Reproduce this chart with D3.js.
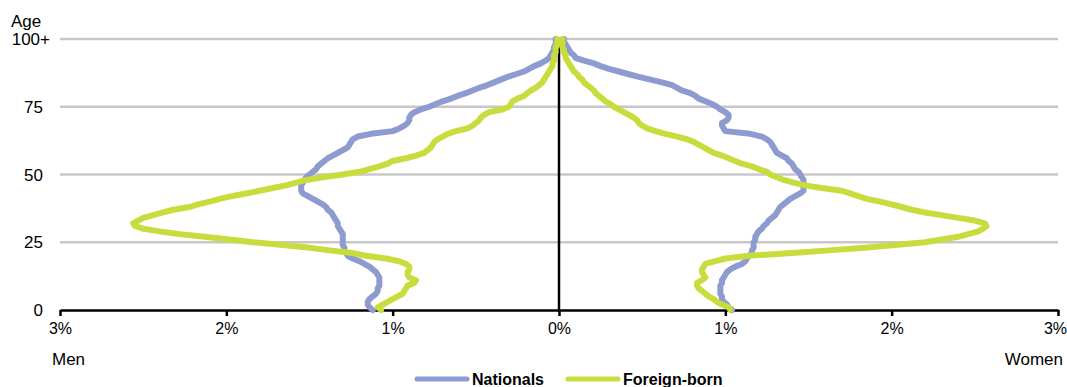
<!DOCTYPE html>
<html>
<head>
<meta charset="utf-8">
<script src="https://cdn.jsdelivr.net/npm/d3@7"></script>
<style>
  html, body { margin: 0; padding: 0; background: #fff; }
  svg { display: block; font-family: "Liberation Sans", Arial, sans-serif; }
</style>
</head>
<body>
<svg id="chart" width="1067" height="387"></svg>
<script>
// ---- Data ----
const ages = [0,1,2,3,4,5,6,7,8,9,10,11,12,13,14,15,16,17,18,19,20,21,22,23,24,25,26,27,28,29,30,31,32,33,34,35,36,37,38,39,40,41,42,43,44,45,46,47,48,49,50,51,52,53,54,55,56,57,58,59,60,61,62,63,64,65,66,67,68,69,70,71,72,73,74,75,76,77,78,79,80,81,82,83,84,85,86,87,88,89,90,91,92,93,94,95,96,97,98,99,100];

// share of population (%) by single year of age
const nationalsMen = [1.12,1.14,1.15,1.15,1.14,1.12,1.10,1.09,1.09,1.08,
 1.08,1.08,1.08,1.09,1.10,1.12,1.14,1.17,1.20,1.24,
 1.27,1.28,1.29,1.29,1.30,1.30,1.30,1.30,1.30,1.31,
 1.32,1.33,1.33,1.34,1.35,1.36,1.37,1.39,1.40,1.42,
 1.45,1.48,1.51,1.54,1.55,1.55,1.55,1.54,1.53,1.52,
 1.50,1.48,1.46,1.45,1.43,1.41,1.39,1.36,1.33,1.30,
 1.27,1.26,1.25,1.24,1.21,1.13,1.00,0.96,0.93,0.91,
 0.90,0.90,0.89,0.87,0.83,0.78,0.74,0.70,0.65,0.61,
 0.56,0.52,0.48,0.43,0.39,0.35,0.31,0.26,0.21,0.18,
 0.15,0.11,0.08,0.06,0.05,0.04,0.03,0.03,0.02,0.02,
 0.02];
const nationalsWomen = [1.04,1.02,1.01,0.99,0.98,0.98,0.97,0.97,0.97,0.97,
 0.98,0.98,0.99,1.00,1.01,1.03,1.06,1.10,1.12,1.13,
 1.14,1.16,1.16,1.17,1.17,1.17,1.18,1.18,1.19,1.20,
 1.22,1.23,1.25,1.26,1.28,1.30,1.31,1.32,1.33,1.35,
 1.37,1.39,1.42,1.45,1.47,1.47,1.47,1.47,1.47,1.46,
 1.45,1.44,1.42,1.41,1.40,1.38,1.37,1.34,1.31,1.30,
 1.29,1.28,1.27,1.25,1.22,1.15,1.00,0.99,0.98,0.98,
 1.01,1.02,1.02,1.00,0.97,0.95,0.92,0.88,0.84,0.82,
 0.79,0.74,0.71,0.68,0.62,0.55,0.48,0.42,0.36,0.30,
 0.25,0.21,0.15,0.10,0.09,0.07,0.06,0.05,0.04,0.03,
 0.03];
const foreignMen = [1.07,1.09,1.06,1.03,1.00,0.97,0.94,0.93,0.92,0.91,
 0.87,0.86,0.90,0.91,0.91,0.90,0.90,0.92,0.96,1.04,
 1.16,1.24,1.38,1.50,1.66,1.84,1.98,2.13,2.28,2.40,
 2.50,2.55,2.56,2.53,2.50,2.44,2.38,2.32,2.22,2.17,
 2.10,2.04,1.97,1.88,1.80,1.72,1.64,1.58,1.52,1.42,
 1.30,1.20,1.14,1.08,1.03,1.00,0.92,0.86,0.81,0.79,
 0.77,0.76,0.75,0.73,0.70,0.67,0.62,0.55,0.52,0.50,
 0.48,0.47,0.45,0.42,0.34,0.30,0.29,0.28,0.25,0.21,
 0.19,0.17,0.14,0.12,0.10,0.09,0.08,0.07,0.06,0.05,
 0.04,0.04,0.03,0.03,0.03,0.02,0.02,0.02,0.01,0.01,
 0.01];
const foreignWomen = [1.03,1.02,0.98,0.95,0.93,0.90,0.88,0.86,0.84,0.83,
 0.83,0.86,0.88,0.87,0.86,0.86,0.87,0.88,0.94,1.00,
 1.14,1.40,1.62,1.84,2.02,2.20,2.30,2.40,2.46,2.52,
 2.55,2.57,2.56,2.50,2.40,2.30,2.20,2.12,2.06,2.00,
 1.93,1.85,1.80,1.75,1.70,1.58,1.48,1.41,1.35,1.31,
 1.27,1.25,1.20,1.16,1.10,1.06,1.02,0.98,0.93,0.90,
 0.87,0.84,0.81,0.77,0.71,0.64,0.58,0.53,0.50,0.48,
 0.47,0.45,0.42,0.39,0.36,0.33,0.31,0.28,0.26,0.24,
 0.22,0.21,0.19,0.17,0.15,0.14,0.12,0.11,0.09,0.08,
 0.07,0.06,0.05,0.04,0.04,0.03,0.03,0.02,0.02,0.02,
 0.02];

const xTickValues = [-3,-2,-1,0,1,2,3];
const xTickLabels = ["3%","2%","1%","0%","1%","2%","3%"];
const yTickValues = [0,25,50,75,100];
const yTickLabels = ["0","25","50","75","100+"];
const seriesNames = ["Nationals","Foreign-born"];
const seriesColors = ["#8e9bd0","#c9dc3d"];

// ---- Layout ----
const svg = d3.select("#chart");
const plotLeft = 60, plotRight = 1058, plotTop = 39, plotBottom = 310;
const x = d3.scaleLinear().domain([-3,3]).range([plotLeft,plotRight]);
const y = d3.scaleLinear().domain([0,100]).range([plotBottom,plotTop]);

// gridlines
svg.append("g").selectAll("line")
  .data(yTickValues.filter(v => v > 0))
  .join("line")
  .attr("x1", plotLeft).attr("x2", plotRight)
  .attr("y1", d => y(d)).attr("y2", d => y(d))
  .attr("stroke", "#c8c8c8").attr("stroke-width", 2.5);

// y labels
svg.append("g").selectAll("text")
  .data(yTickValues)
  .join("text")
  .attr("x", (d,i) => yTickLabels[i].includes("+") ? 50 : 43)
  .attr("y", d => y(d) + 6)
  .attr("text-anchor", "end")
  .attr("font-size", 17)
  .attr("fill", "#000")
  .text((d,i) => yTickLabels[i]);

svg.append("text").attr("x", 11).attr("y", 27).attr("font-size", 17).text("Age");

// x axis
const xAxis = d3.axisBottom(x)
  .tickValues(xTickValues)
  .tickFormat((d,i) => xTickLabels[i])
  .tickSize(6)
  .tickSizeOuter(0);
const gx = svg.append("g").attr("transform", `translate(0,${plotBottom})`).call(xAxis);
gx.select(".domain").attr("stroke", "#000").attr("stroke-width", 2.5);
gx.selectAll(".tick line").attr("stroke", "#000").attr("stroke-width", 2.5);
gx.selectAll(".tick text")
  .attr("font-size", 16)
  .attr("font-family", "Liberation Sans, Arial, sans-serif")
  .attr("fill", "#000")
  .attr("dy", "0.95em")
  .attr("dx", (d,i) => i === xTickValues.length - 1 ? -3 : 0);

// vertical zero axis
svg.append("line")
  .attr("x1", x(0)).attr("x2", x(0))
  .attr("y1", y(100)).attr("y2", y(0))
  .attr("stroke", "#000").attr("stroke-width", 2.5);

svg.append("text").attr("x", 52).attr("y", 365).attr("font-size", 17).text("Men");
svg.append("text").attr("x", 1063).attr("y", 365).attr("font-size", 17)
  .attr("text-anchor", "end").text("Women");

// series lines
const lineMen = d3.line().x(d => x(-d)).y((d,i) => y(ages[i]));
const lineWomen = d3.line().x(d => x(d)).y((d,i) => y(ages[i]));
const seriesData = [
  [nationalsMen, nationalsWomen],
  [foreignMen, foreignWomen]
];
seriesData.forEach((pair, si) => {
  const g = svg.append("g")
    .attr("fill", "none")
    .attr("stroke", seriesColors[si])
    .attr("stroke-width", 6)
    .attr("stroke-linejoin", "round")
    .attr("stroke-linecap", "round");
  g.append("path").attr("d", lineMen(pair[0]));
  g.append("path").attr("d", lineWomen(pair[1]));
});

// legend
const legendX = [417, 568];
const lg = svg.append("g").selectAll("g").data(seriesNames).join("g")
  .attr("transform", (d,i) => `translate(${legendX[i]},379)`);
lg.append("line").attr("x1", 0).attr("x2", 50).attr("y1", 0).attr("y2", 0)
  .attr("stroke", (d,i) => seriesColors[i]).attr("stroke-width", 5)
  .attr("stroke-linecap", "round");
lg.append("text").attr("x", 55).attr("y", 6)
  .attr("font-size", 16).attr("font-weight", "bold").text(d => d);
</script>
</body>
</html>
